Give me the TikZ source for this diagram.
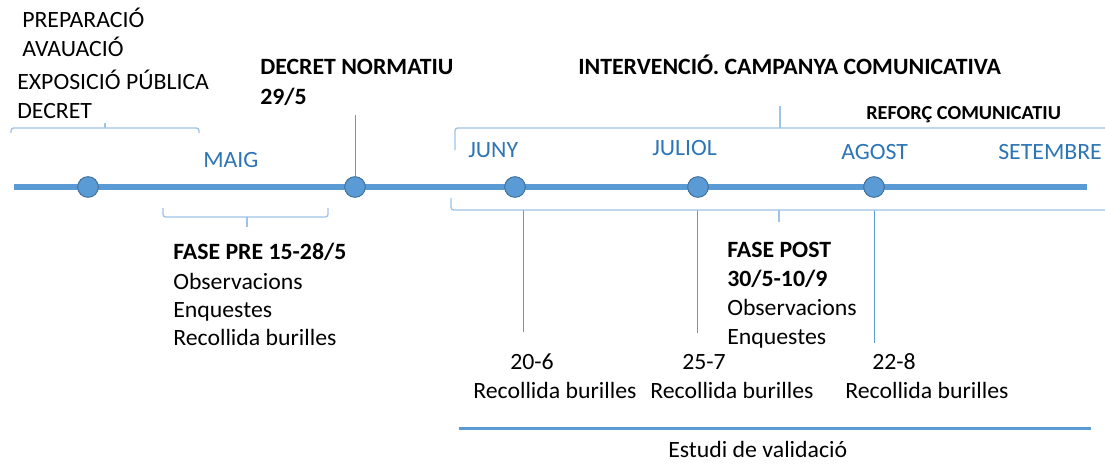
\documentclass[tikz,border=0pt]{standalone}
\usepackage{fontspec}
\setmainfont[FakeStretch=1.02]{Carlito}
\usetikzlibrary{positioning}
\definecolor{tlblue}{HTML}{5B9BD5}
\definecolor{tldark}{HTML}{41719C}
\definecolor{mestxt}{HTML}{2E75B6}
\definecolor{claublue}{HTML}{9DC3E6}

\begin{document}
\begin{tikzpicture}[x=0.75pt,y=-0.75pt,
  txt/.style={anchor=base west,inner sep=0pt,font=\fontsize{17.5}{21}\selectfont},
  bld/.style={txt,font=\fontsize{17.5}{21}\selectfont\bfseries},
  mes/.style={txt,text=mestxt},
  fita/.style={circle,draw=tldark,fill=tlblue,minimum size=15.5pt,inner sep=0pt,line width=0.75pt},
  claud/.style={claublue,line width=1pt,rounded corners=2pt},
  guia/.style={tlblue,line width=0.6pt}]
\useasboundingbox (0,0) rectangle (1105,464);

\coordinate (t0) at (14,187);
\coordinate (t1) at (1087,187);
\draw[tlblue,line width=4.5pt] (t0) -- (t1);

\node[fita] (c1) at (88,187) {};
\node[fita] (c2) at (355,187) {};
\node[fita] (c3) at (515,187) {};
\node[fita] (c4) at (698,187) {};
\node[fita] (c5) at (874,187) {};

\node[txt] (prep) at (22,27) {PREPARACIÓ};
\node[txt] (aval) at (22,56) {AVAUACIÓ};
\node[txt] (expo) at (17,89) {EXPOSICIÓ PÚBLICA};
\node[txt] (decr) at (17,118) {DECRET};
\node[bld] (norm) at (260,74) {DECRET NORMATIU};
\node[bld] (dnorm) at (260,104) {29/5};
\node[bld] (interv) at (578,74) {INTERVENCIÓ. CAMPANYA COMUNICATIVA};
\node[bld,font=\fontsize{14.9}{18}\selectfont\bfseries] (reforc) at (866,119) {REFORÇ COMUNICATIU};

\node[mes] (maig) at (203,167) {MAIG};
\node[mes] (juny) at (468,157) {JUNY};
\node[mes] (juliol) at (652,155) {JULIOL};
\node[mes] (agost) at (841,159) {AGOST};
\node[mes] (setembre) at (998,159) {SETEMBRE};

\node[bld] (pre) at (173,259) {FASE PRE 15-28/5};
\node[txt] (pre1) at (173,289) {Observacions};
\node[txt] (pre2) at (173,317) {Enquestes};
\node[txt] (pre3) at (173,345) {Recollida burilles};

\node[bld] (post) at (727,257) {FASE POST};
\node[bld] (dpost) at (727,286) {30/5-10/9};
\node[txt] (post1) at (727,315) {Observacions};
\node[txt] (post2) at (727,344) {Enquestes};

\node[txt] (d1) at (510,369) {20-6};
\node[txt] (r1) at (473,398) {Recollida burilles};
\node[txt] (d2) at (682,369) {25-7};
\node[txt] (r2) at (650,398) {Recollida burilles};
\node[txt] (d3) at (872,369) {22-8};
\node[txt] (r3) at (845,398) {Recollida burilles};

\coordinate (e0) at (459,428);
\coordinate (e1) at (1091,428);
\draw[tlblue,line width=2.25pt] (e0) -- (e1);
\node[txt] (estudi) at (668,457) {Estudi de validació};

\coordinate (g2) at (355,115);
\draw[guia] (g2) -- (c2.north);
\coordinate (g3a) at (523,210);
\coordinate (g3b) at (523,332);
\draw[guia] (g3a) -- (g3b);
\coordinate (g4a) at (697,210);
\coordinate (g4b) at (697,333);
\draw[guia] (g4a) -- (g4b);
\coordinate (g5a) at (874,210);
\coordinate (g5b) at (874,343);
\draw[guia] (g5a) -- (g5b);

\draw[claud] (11,133) -- (11,128) -- (199,128) -- (199,133);
\draw[claud] (105,128) -- (105,123);
\draw[claud] (163,208) -- (163,217) -- (328,217) -- (328,208);
\draw[claud] (247,217) -- (247,227);
\draw[claud] (455,150) -- (455,128) -- (1105,128);
\draw[claud] (780,128) -- (780,106);
\draw[claud] (451,198) -- (451,210) -- (1105,210);
\draw[claud] (779,210) -- (779,222);
\end{tikzpicture}
\end{document}
